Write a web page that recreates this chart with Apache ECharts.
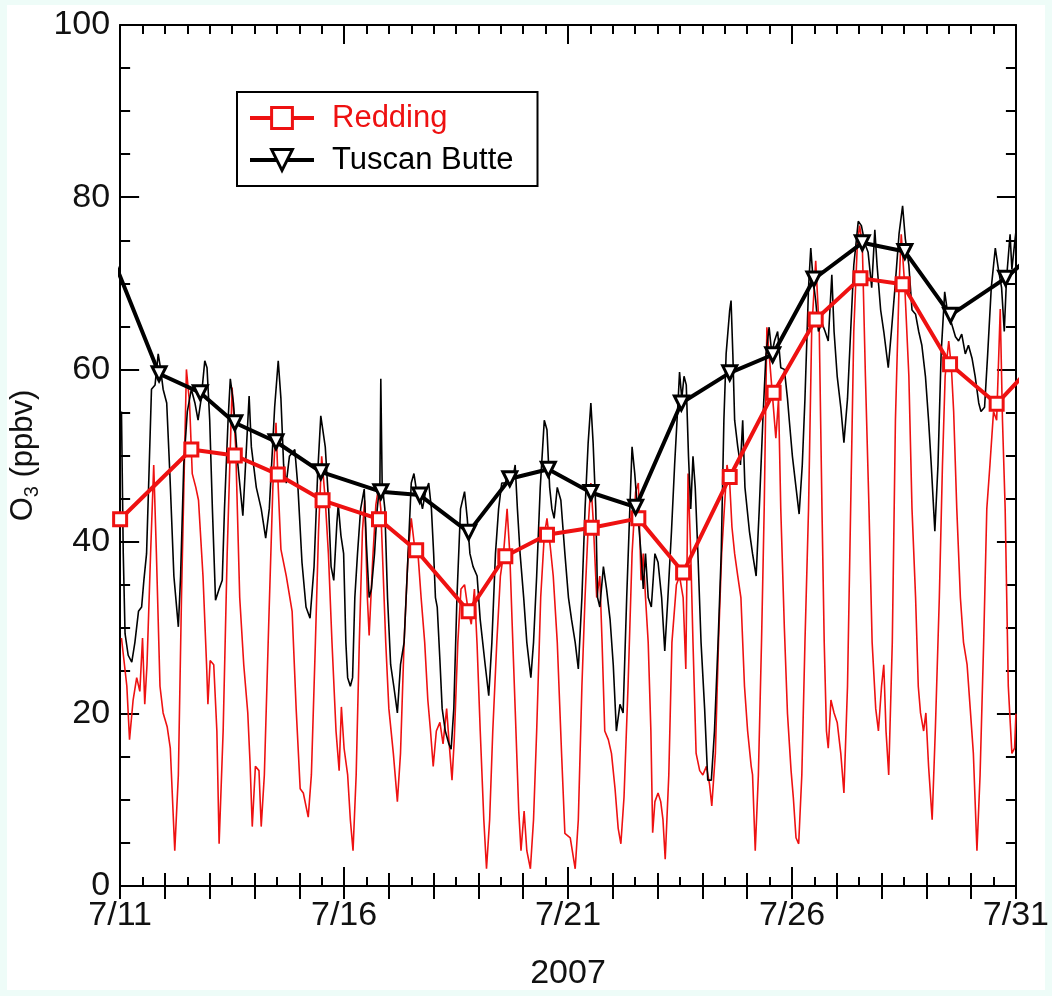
<!DOCTYPE html>
<html>
<head>
<meta charset="utf-8">
<script src="https://cdn.jsdelivr.net/npm/echarts@6/dist/echarts.min.js"></script>
<style>
html,body{margin:0;padding:0;background:#eefcf8;}
#bg{position:absolute;left:7px;top:5px;width:1038px;height:985px;background:#ffffff;}
#chart{position:absolute;left:0;top:0;width:1052px;height:996px;}
</style>
</head>
<body>
<div id="bg"></div>
<div id="chart"></div>
<script>
// x values are days of July 2007, y values are O3 in ppbv
const xTickDays = [11, 16, 21, 26, 31];
const xLabelPrefix = '7/';
const xAxisTitle = '2007';
const seriesNames = ['Redding', 'Tuscan Butte'];

const reddingHourly = [[11.03,28.8],[11.15,23.2],[11.21,17.0],[11.29,21.6],[11.37,24.2],[11.44,22.6],[11.50,28.8],[11.55,21.1],[11.60,25.7],[11.68,38.6],[11.75,48.9],[11.81,38.6],[11.89,23.2],[11.96,20.1],[12.05,18.5],[12.12,16.0],[12.22,4.1],[12.30,12.9],[12.37,33.5],[12.48,60.0],[12.55,56.1],[12.61,47.9],[12.69,46.3],[12.75,44.8],[12.85,36.0],[12.93,25.7],[12.96,21.1],[13.01,26.2],[13.09,25.7],[13.16,18.0],[13.21,4.9],[13.30,18.0],[13.39,38.6],[13.50,57.9],[13.58,51.0],[13.67,33.5],[13.76,25.7],[13.85,20.1],[13.90,14.4],[13.95,6.9],[14.02,13.9],[14.10,13.4],[14.15,6.9],[14.22,12.9],[14.32,30.9],[14.41,46.3],[14.48,53.8],[14.53,46.3],[14.59,39.1],[14.71,36.0],[14.84,31.9],[14.93,20.6],[15.02,11.3],[15.09,10.8],[15.20,8.0],[15.27,12.9],[15.36,28.3],[15.43,41.2],[15.50,49.9],[15.58,44.8],[15.65,38.6],[15.73,28.3],[15.82,18.0],[15.89,13.4],[15.94,20.8],[16.00,16.0],[16.08,12.9],[16.14,7.7],[16.20,4.1],[16.27,12.9],[16.34,28.3],[16.41,41.2],[16.46,44.8],[16.52,33.5],[16.56,29.1],[16.64,38.0],[16.71,44.3],[16.77,46.3],[16.82,43.8],[16.93,28.3],[17.00,20.6],[17.10,15.4],[17.19,9.8],[17.26,15.4],[17.34,28.3],[17.43,38.6],[17.50,42.7],[17.57,39.6],[17.65,38.6],[17.72,33.5],[17.80,28.3],[17.87,21.6],[17.93,18.0],[17.99,13.9],[18.06,18.0],[18.14,19.0],[18.21,16.5],[18.29,20.6],[18.34,17.0],[18.41,12.3],[18.46,17.0],[18.54,28.3],[18.61,34.5],[18.69,35.0],[18.76,32.4],[18.84,30.4],[18.91,34.5],[18.97,28.0],[19.04,18.0],[19.12,7.7],[19.18,2.0],[19.25,7.7],[19.32,18.0],[19.41,28.3],[19.49,36.0],[19.56,38.6],[19.64,43.8],[19.70,38.6],[19.75,30.9],[19.82,20.6],[19.90,8.7],[19.95,4.1],[20.02,8.7],[20.08,4.1],[20.16,2.0],[20.23,7.7],[20.30,18.0],[20.39,33.5],[20.47,40.7],[20.53,42.7],[20.60,39.6],[20.67,36.0],[20.76,28.3],[20.86,14.9],[20.93,6.1],[21.05,5.6],[21.16,2.0],[21.23,7.7],[21.31,23.2],[21.38,33.5],[21.45,41.7],[21.51,46.8],[21.56,42.7],[21.64,33.5],[21.71,36.0],[21.76,28.3],[21.82,18.0],[21.90,17.0],[21.97,15.4],[22.05,11.3],[22.12,6.7],[22.18,4.9],[22.25,10.3],[22.34,23.2],[22.43,38.6],[22.51,45.8],[22.57,46.8],[22.63,35.5],[22.68,38.6],[22.73,33.5],[22.79,28.3],[22.85,18.0],[22.89,6.2],[22.94,9.8],[23.01,10.8],[23.07,9.8],[23.12,7.7],[23.17,3.1],[23.25,12.9],[23.32,28.3],[23.42,35.0],[23.49,36.0],[23.57,33.5],[23.63,25.2],[23.68,47.9],[23.74,38.6],[23.79,28.3],[23.86,15.4],[23.94,13.4],[24.01,12.9],[24.09,13.9],[24.16,11.8],[24.21,9.3],[24.29,15.4],[24.36,28.3],[24.43,38.6],[24.49,43.8],[24.55,48.9],[24.61,46.8],[24.66,41.7],[24.72,38.6],[24.79,36.0],[24.86,33.5],[24.94,23.2],[25.01,18.0],[25.09,13.9],[25.12,12.9],[25.18,4.1],[25.25,12.9],[25.32,28.3],[25.38,43.8],[25.44,64.9],[25.49,61.8],[25.57,56.6],[25.64,52.0],[25.70,56.6],[25.75,43.8],[25.83,30.0],[25.90,20.0],[25.98,13.4],[26.03,10.3],[26.09,5.6],[26.15,4.9],[26.22,12.9],[26.29,28.3],[26.37,43.8],[26.44,64.4],[26.53,72.6],[26.61,64.4],[26.67,43.8],[26.72,28.3],[26.77,18.0],[26.81,16.0],[26.87,21.6],[26.94,20.1],[27.01,19.0],[27.09,15.4],[27.16,10.8],[27.24,23.2],[27.31,43.8],[27.38,64.4],[27.46,74.6],[27.51,76.7],[27.57,74.6],[27.64,59.2],[27.72,43.8],[27.79,28.3],[27.87,20.6],[27.93,18.0],[28.00,23.2],[28.05,25.7],[28.10,18.0],[28.16,12.9],[28.24,28.3],[28.31,54.1],[28.39,69.5],[28.44,75.7],[28.52,69.5],[28.61,59.2],[28.68,43.8],[28.76,33.5],[28.82,23.2],[28.87,20.1],[28.94,18.0],[28.99,20.1],[29.05,13.9],[29.13,7.7],[29.20,18.0],[29.29,33.5],[29.36,48.9],[29.42,59.2],[29.50,63.3],[29.56,60.2],[29.61,55.1],[29.68,43.8],[29.76,33.5],[29.83,28.3],[29.91,25.7],[29.98,20.6],[30.05,15.4],[30.13,4.1],[30.20,12.9],[30.28,28.3],[30.35,43.8],[30.42,48.9],[30.50,55.1],[30.57,54.1],[30.65,67.0],[30.70,54.1],[30.76,43.8],[30.83,23.2],[30.91,15.4],[30.97,16.0],[31.00,20.0]];

const tuscanHourly = [[11.03,55.1],[11.07,38.6],[11.11,29.3],[11.18,26.8],[11.26,26.0],[11.33,28.3],[11.41,31.9],[11.48,32.4],[11.53,35.5],[11.59,38.6],[11.65,48.9],[11.70,57.7],[11.78,58.2],[11.85,61.8],[11.90,60.2],[11.96,57.7],[12.04,56.1],[12.11,47.9],[12.20,36.0],[12.30,30.1],[12.35,36.0],[12.42,48.9],[12.50,55.1],[12.59,57.7],[12.67,56.1],[12.74,54.1],[12.81,56.6],[12.89,61.0],[12.94,60.2],[13.00,54.1],[13.06,43.8],[13.13,33.2],[13.21,34.5],[13.28,35.5],[13.33,43.8],[13.41,54.1],[13.46,58.9],[13.53,56.1],[13.63,48.9],[13.74,43.0],[13.80,48.9],[13.88,56.9],[13.93,51.0],[14.04,46.3],[14.15,43.8],[14.25,40.4],[14.33,43.8],[14.45,55.6],[14.53,61.0],[14.59,56.6],[14.65,48.9],[14.71,46.8],[14.78,49.9],[14.90,50.7],[14.97,46.3],[15.06,37.6],[15.15,32.4],[15.24,31.1],[15.33,37.1],[15.41,47.9],[15.48,54.6],[15.52,54.8],[15.58,51.0],[15.64,45.8],[15.71,37.1],[15.77,35.5],[15.84,42.2],[15.87,44.3],[15.93,40.7],[15.99,38.6],[16.04,28.3],[16.08,24.2],[16.14,23.2],[16.19,24.2],[16.24,33.5],[16.30,38.6],[16.37,43.8],[16.45,46.1],[16.50,39.6],[16.56,33.5],[16.61,34.5],[16.68,38.6],[16.74,43.8],[16.80,46.8],[16.82,58.9],[16.85,46.8],[16.91,43.8],[16.97,33.5],[17.04,25.7],[17.11,23.2],[17.19,20.1],[17.26,25.7],[17.34,28.3],[17.43,38.6],[17.50,46.8],[17.56,47.9],[17.62,45.8],[17.69,45.3],[17.75,43.8],[17.82,45.8],[17.89,46.8],[17.95,43.8],[18.00,38.6],[18.04,33.5],[18.08,32.4],[18.14,26.2],[18.19,20.6],[18.26,18.0],[18.34,16.5],[18.39,15.9],[18.45,20.6],[18.52,33.5],[18.60,43.8],[18.69,45.8],[18.75,42.7],[18.81,38.6],[18.88,37.1],[18.97,36.0],[19.04,30.9],[19.15,25.7],[19.23,22.1],[19.30,28.3],[19.38,38.6],[19.45,43.8],[19.52,46.8],[19.60,46.8],[19.67,47.9],[19.75,46.8],[19.82,48.9],[19.87,43.8],[19.93,38.6],[20.01,33.5],[20.08,28.3],[20.17,24.2],[20.23,28.3],[20.30,36.0],[20.38,46.3],[20.47,54.1],[20.53,53.0],[20.59,46.3],[20.64,43.8],[20.69,42.7],[20.76,46.3],[20.84,44.8],[20.93,38.6],[21.01,33.5],[21.08,30.9],[21.16,28.3],[21.23,25.2],[21.31,33.5],[21.38,43.8],[21.45,51.5],[21.51,56.1],[21.56,51.5],[21.62,43.8],[21.66,33.5],[21.71,32.4],[21.79,37.1],[21.86,34.5],[21.94,30.9],[22.01,25.7],[22.08,18.0],[22.16,21.1],[22.23,20.1],[22.31,33.5],[22.38,43.8],[22.43,51.0],[22.49,47.9],[22.55,43.8],[22.63,38.6],[22.68,34.5],[22.73,38.6],[22.79,33.5],[22.86,32.4],[22.94,38.6],[23.01,37.6],[23.09,33.5],[23.16,27.3],[23.23,33.5],[23.31,41.2],[23.38,48.9],[23.46,56.6],[23.49,59.7],[23.54,56.6],[23.59,59.2],[23.64,58.2],[23.69,49.9],[23.74,43.8],[23.79,49.9],[23.84,46.3],[23.90,38.6],[23.97,28.3],[24.05,20.6],[24.12,12.3],[24.20,12.3],[24.27,18.0],[24.35,28.3],[24.42,38.6],[24.48,54.1],[24.53,61.8],[24.61,66.9],[24.64,68.0],[24.68,61.8],[24.72,54.1],[24.79,51.0],[24.85,48.9],[24.90,54.1],[24.95,46.3],[25.05,41.2],[25.12,38.6],[25.20,36.0],[25.27,43.8],[25.35,54.1],[25.42,61.8],[25.49,64.9],[25.55,61.8],[25.61,63.3],[25.68,64.4],[25.75,60.2],[25.83,60.0],[25.90,56.6],[25.94,54.1],[26.01,49.9],[26.09,46.3],[26.16,43.2],[26.23,48.9],[26.29,56.6],[26.37,69.5],[26.42,74.1],[26.47,70.5],[26.53,68.0],[26.59,64.4],[26.67,65.4],[26.74,64.4],[26.81,63.3],[26.89,71.0],[26.94,64.4],[27.01,59.2],[27.09,55.6],[27.16,51.5],[27.24,56.6],[27.31,64.4],[27.38,72.1],[27.48,77.2],[27.55,76.7],[27.63,74.6],[27.70,73.6],[27.78,69.5],[27.85,76.2],[27.90,72.1],[27.98,66.9],[28.05,64.4],[28.15,60.2],[28.22,64.4],[28.30,69.5],[28.39,75.7],[28.47,79.0],[28.53,75.2],[28.61,72.1],[28.68,66.9],[28.76,66.4],[28.83,64.4],[28.90,62.8],[28.98,59.2],[29.05,54.1],[29.11,48.9],[29.19,41.2],[29.26,48.9],[29.33,61.8],[29.41,69.0],[29.48,66.4],[29.56,65.4],[29.65,63.8],[29.72,63.3],[29.79,64.1],[29.87,61.8],[29.94,62.8],[30.02,61.3],[30.09,59.2],[30.17,56.1],[30.22,55.1],[30.30,55.6],[30.37,61.8],[30.45,69.5],[30.54,74.1],[30.61,71.6],[30.68,69.5],[30.74,64.4],[30.79,70.5],[30.87,75.7],[30.91,71.6],[30.97,74.6],[31.00,76.0]];

const reddingDaily = [[11.00,42.6],[12.59,50.7],[13.56,50.0],[14.52,47.8],[15.52,44.8],[16.78,42.6],[17.61,39.0],[18.78,31.9],[19.60,38.3],[20.53,40.8],[21.53,41.6],[22.57,42.7],[23.57,36.4],[24.61,47.5],[25.59,57.3],[26.53,65.8],[27.53,70.6],[28.47,69.9],[29.53,60.6],[30.57,56.0],[31.40,60.6]];

const tuscanDaily = [[10.50,77.3],[11.87,59.5],[12.79,57.3],[13.56,53.8],[14.48,51.6],[15.48,48.1],[16.82,45.8],[17.69,45.4],[18.78,41.1],[19.70,47.3],[20.56,48.4],[21.51,45.7],[22.51,44.0],[23.53,56.1],[24.61,59.6],[25.57,61.7],[26.49,70.5],[27.57,74.7],[28.52,73.7],[29.54,66.3],[30.77,70.6],[31.40,73.5]];

const FONT = "'Liberation Sans', Arial, Helvetica, sans-serif";
const RED = '#ee1111';
const BLACK = '#000000';
const XMIN = xTickDays[0], XMAX = xTickDays[xTickDays.length - 1];

const chart = echarts.init(document.getElementById('chart'), null, {renderer: 'canvas'});

function xAx(opts) {
  return Object.assign({
    type: 'value', min: XMIN, max: XMAX, gridIndex: 0,
    splitLine: {show: false},
    axisLine: {show: true, onZero: false, lineStyle: {color: '#000', width: 2}},
    axisLabel: {show: false},
    axisTick: {show: true, inside: true, length: 19, lineStyle: {color: '#000', width: 2}},
    minorTick: {show: false}
  }, opts);
}

const option = {
  backgroundColor: 'transparent',
  animation: false,
  textStyle: {fontFamily: FONT},
  grid: {left: 118, right: 35, top: 25, bottom: 104, containLabel: false},
  legend: {
    show: true,
    left: 237, top: 92,
    orient: 'vertical',
    data: [
      {name: seriesNames[0], textStyle: {color: RED},
        lineStyle: {color: RED, width: 4},
        itemStyle: {color: '#fff', borderColor: RED, borderWidth: 3}},
      {name: seriesNames[1], textStyle: {color: '#000'},
        lineStyle: {color: BLACK, width: 4},
        itemStyle: {color: '#fff', borderColor: BLACK, borderWidth: 3}}
    ],
    itemWidth: 64, itemHeight: 26, itemGap: 6,
    padding: [8, 24, 8, 11],
    borderColor: '#000', borderWidth: 2,
    backgroundColor: '#fff',
    selectedMode: false,
    textStyle: {fontFamily: FONT, fontSize: 31, padding: [0, 0, 0, 13], lineHeight: 36}
  },
  xAxis: [
    xAx({position: 'bottom', interval: 5,
      axisLabel: {show: true, fontSize: 34, color: '#111', margin: 13, fontFamily: FONT,
        formatter: v => xLabelPrefix + v},
      minorTick: {show: true, splitNumber: 10, length: 9, lineStyle: {color: '#000', width: 2}},
      name: xAxisTitle, nameLocation: 'middle', nameGap: 71,
      nameTextStyle: {fontSize: 34, color: '#111', fontFamily: FONT}}),
    xAx({position: 'top', interval: 5,
      minorTick: {show: true, splitNumber: 10, length: 9, lineStyle: {color: '#000', width: 2}}}),
    xAx({position: 'bottom', interval: 1, axisLine: {show: false},
      axisTick: {show: true, inside: true, length: 13, lineStyle: {color: '#000', width: 2}}}),
    xAx({position: 'top', interval: 1, axisLine: {show: false},
      axisTick: {show: true, inside: true, length: 13, lineStyle: {color: '#000', width: 2}}})
  ],
  yAxis: [
    {type: 'value', min: 0, max: 100, interval: 20, position: 'left',
      splitLine: {show: false},
      axisLine: {show: true, lineStyle: {color: '#000', width: 2}},
      axisTick: {show: true, inside: true, length: 19, lineStyle: {color: '#000', width: 2}},
      minorTick: {show: true, splitNumber: 4, length: 10, lineStyle: {color: '#000', width: 2}},
      axisLabel: {fontSize: 34, color: '#111', margin: 10, fontFamily: FONT},
      name: '{a|O}{b|3}{a| (ppbv)}', nameLocation: 'middle', nameGap: 66, nameRotate: 90,
      nameTextStyle: {fontFamily: FONT, color: '#111',
        rich: {a: {fontSize: 31, fontFamily: FONT, color: '#111', lineHeight: 38, verticalAlign: 'middle'},
               b: {fontSize: 20, fontFamily: FONT, color: '#111', lineHeight: 38, verticalAlign: 'bottom'}}}},
    {type: 'value', min: 0, max: 100, interval: 20, position: 'right',
      splitLine: {show: false},
      axisLine: {show: true, lineStyle: {color: '#000', width: 2}},
      axisTick: {show: true, inside: true, length: 19, lineStyle: {color: '#000', width: 2}},
      minorTick: {show: true, splitNumber: 4, length: 10, lineStyle: {color: '#000', width: 2}},
      axisLabel: {show: false}}
  ],
  series: [
    {name: 'Redding hourly', type: 'line', data: reddingHourly, xAxisIndex: 0, yAxisIndex: 0,
      showSymbol: false, symbol: 'none', clip: true, z: 2,
      lineStyle: {color: RED, width: 1.6}, itemStyle: {color: RED}},
    {name: 'Tuscan Butte hourly', type: 'line', data: tuscanHourly, xAxisIndex: 0, yAxisIndex: 0,
      showSymbol: false, symbol: 'none', clip: true, z: 3,
      lineStyle: {color: BLACK, width: 1.6}, itemStyle: {color: BLACK}},
    {name: seriesNames[0], type: 'line', data: reddingDaily, xAxisIndex: 0, yAxisIndex: 0,
      clip: true, z: 4, symbol: 'rect', symbolSize: 13,
      lineStyle: {color: RED, width: 4},
      itemStyle: {color: '#fff', borderColor: RED, borderWidth: 3}},
    {name: seriesNames[1], type: 'line', data: tuscanDaily, xAxisIndex: 0, yAxisIndex: 0,
      clip: true, z: 5, symbol: 'triangle', symbolRotate: 180, symbolSize: 14,
      lineStyle: {color: BLACK, width: 4},
      itemStyle: {color: '#fff', borderColor: BLACK, borderWidth: 3}}
  ]
};
chart.setOption(option);
</script>
</body>
</html>
